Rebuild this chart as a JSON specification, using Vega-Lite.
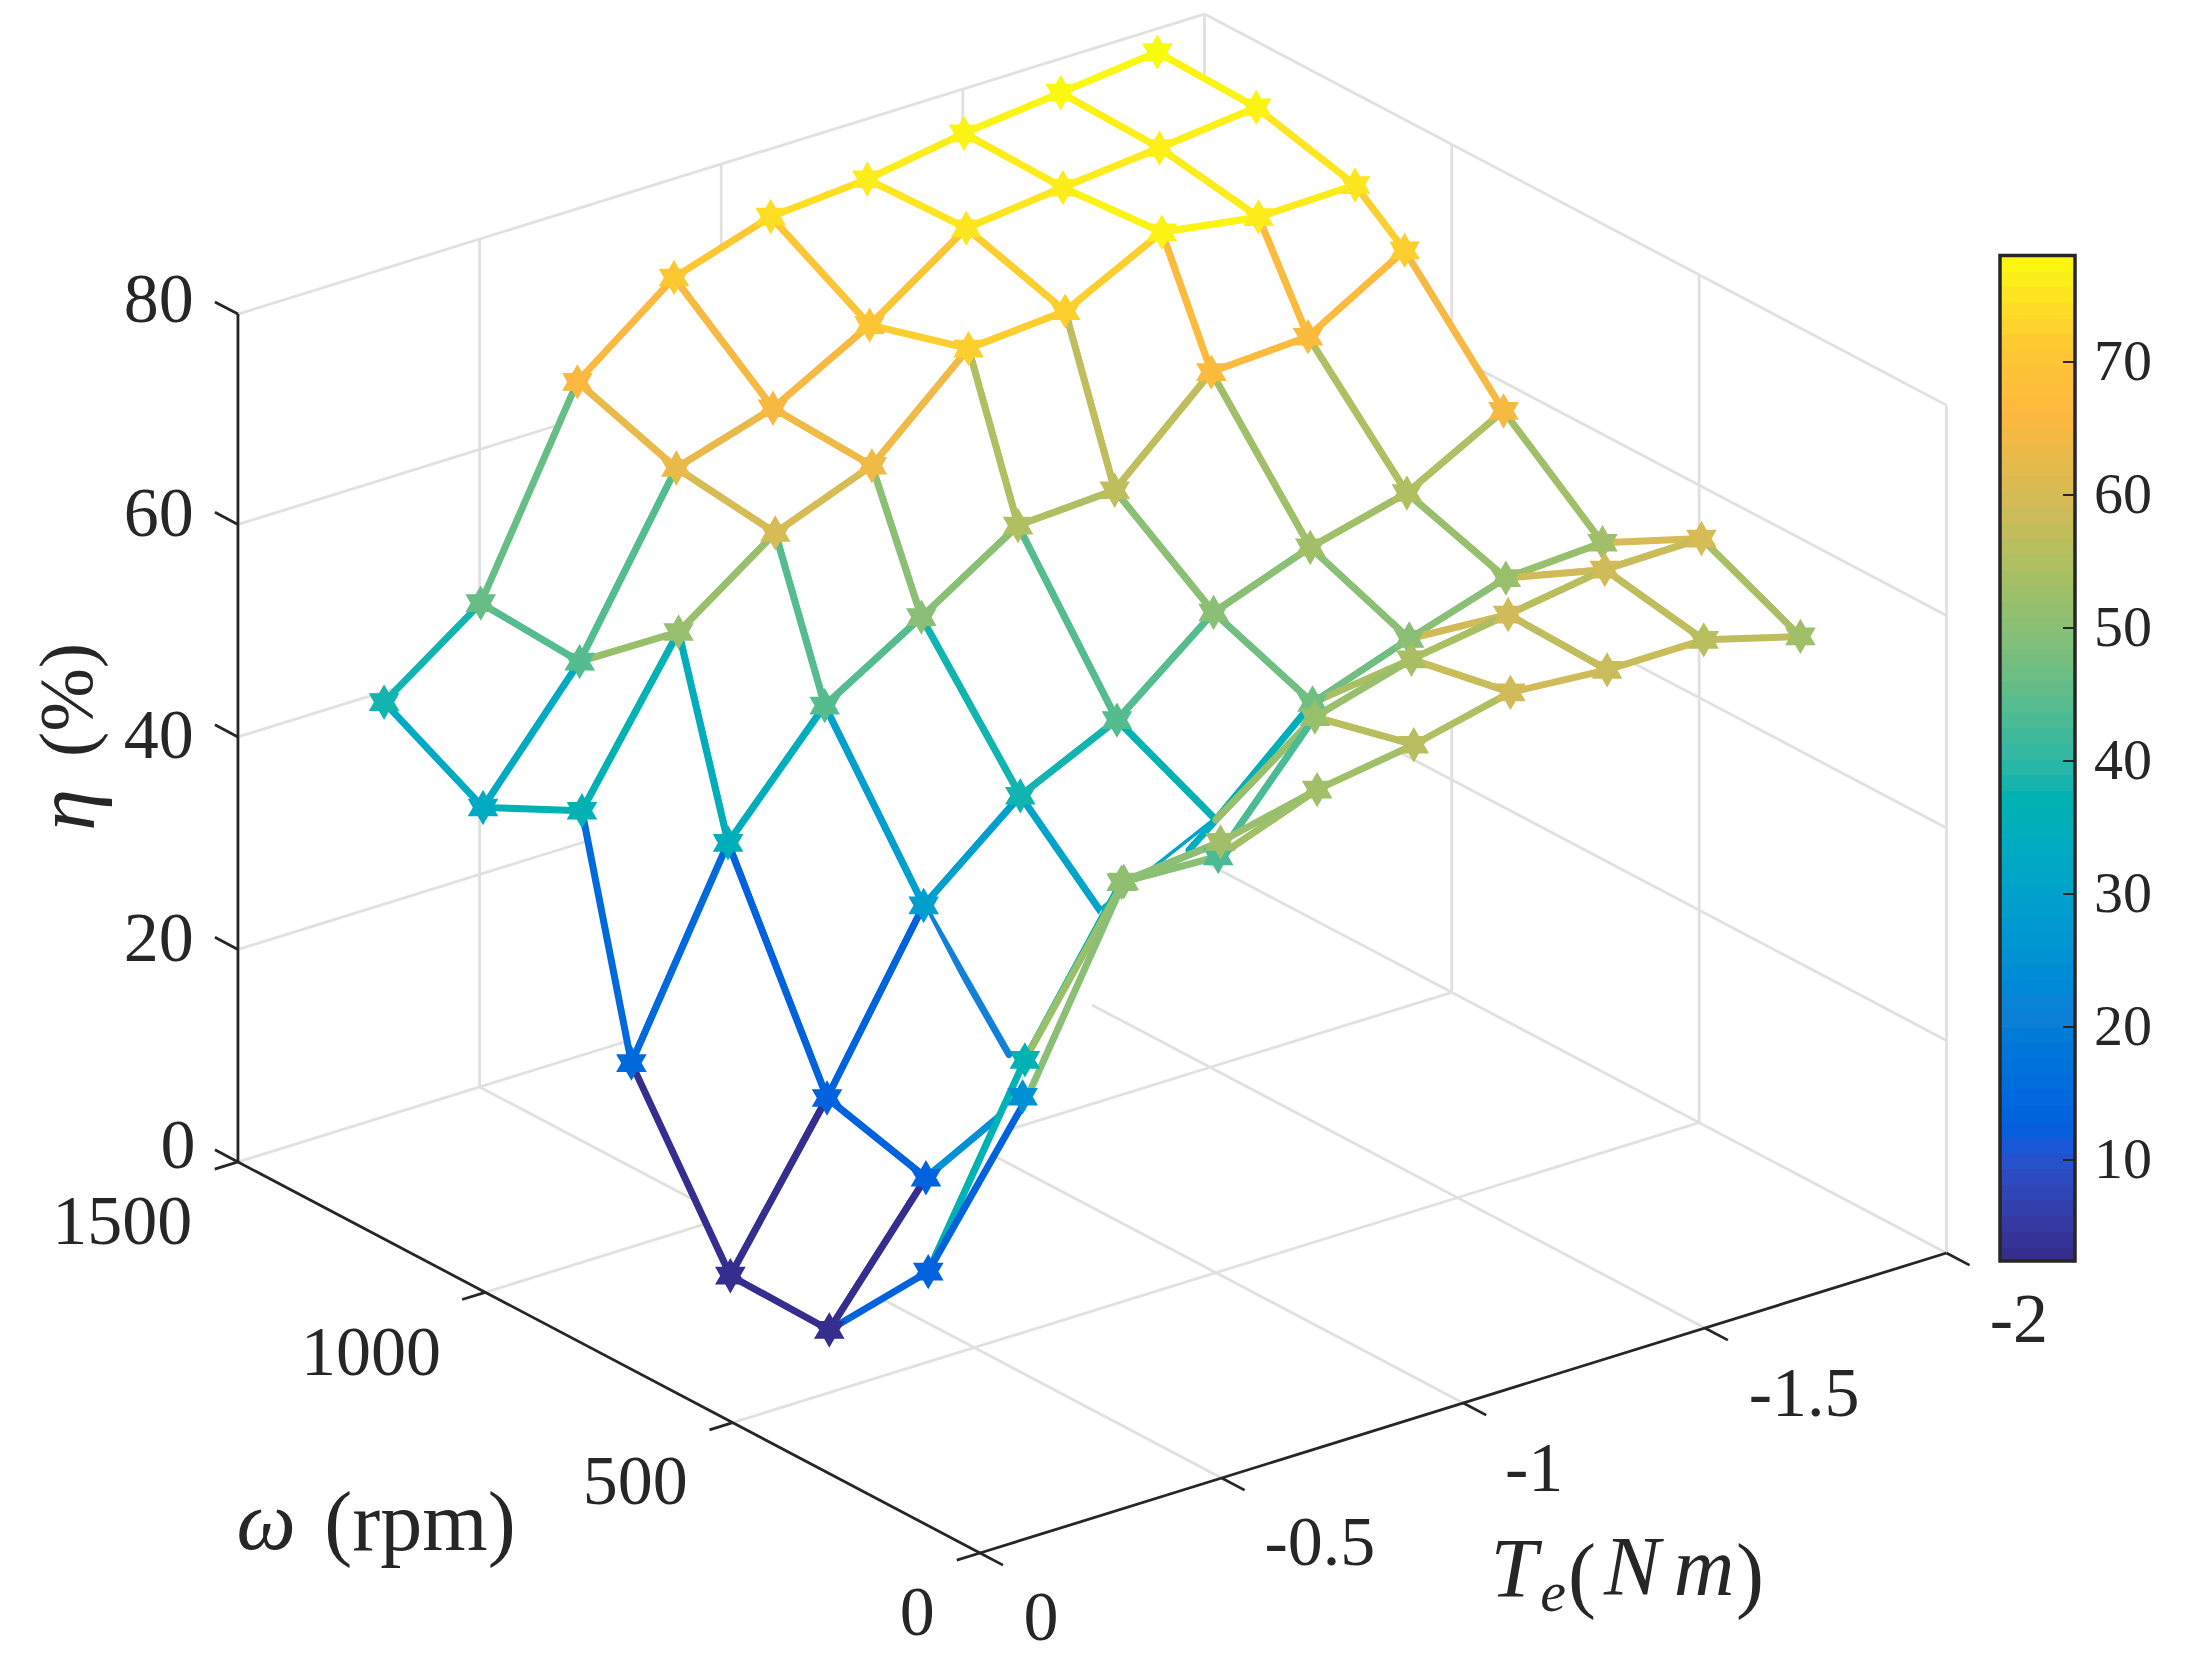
{"$schema":"https://vega.github.io/schema/vega-lite/v6.json","width":2190,"height":1660,"padding":0,"autosize":{"type":"fit","contains":"padding"},"background":"white","view":{"stroke":null},
"datasets":{
"verts":[
{"id":10,"Te":-0.2,"rpm":1400,"eta":42.9,"c":38},{"id":11,"Te":-0.4,"rpm":1400,"eta":49.4,"c":46},{"id":12,"Te":-0.6,"rpm":1400,"eta":67.4,"c":66},{"id":13,"Te":-0.8,"rpm":1400,"eta":74.4,"c":71},{"id":14,"Te":-1.0,"rpm":1400,"eta":77.3,"c":74},{"id":15,"Te":-1.2,"rpm":1400,"eta":78.0,"c":76},{"id":16,"Te":-1.4,"rpm":1400,"eta":79.5,"c":77},{"id":17,"Te":-1.6,"rpm":1400,"eta":80.5,"c":77.5},{"id":18,"Te":-1.8,"rpm":1400,"eta":81.5,"c":78},
{"id":20,"Te":-0.2,"rpm":1200,"eta":37.9,"c":33},{"id":21,"Te":-0.4,"rpm":1200,"eta":48.8,"c":44},{"id":22,"Te":-0.6,"rpm":1200,"eta":64.2,"c":63},{"id":23,"Te":-0.8,"rpm":1200,"eta":67.0,"c":65},{"id":24,"Te":-1.0,"rpm":1200,"eta":72.0,"c":70},{"id":25,"Te":-1.2,"rpm":1200,"eta":78.3,"c":75},{"id":26,"Te":-1.4,"rpm":1200,"eta":79.3,"c":76},{"id":27,"Te":-1.6,"rpm":1200,"eta":80.2,"c":76.5},{"id":28,"Te":-1.8,"rpm":1200,"eta":81.2,"c":77},
{"id":30,"Te":-0.2,"rpm":1000,"eta":42.5,"c":37},{"id":31,"Te":-0.4,"rpm":1000,"eta":56.5,"c":52},{"id":32,"Te":-0.6,"rpm":1000,"eta":63.0,"c":60},{"id":33,"Te":-0.8,"rpm":1000,"eta":66.5,"c":64},{"id":34,"Te":-1.0,"rpm":1000,"eta":74.7,"c":72},{"id":35,"Te":-1.2,"rpm":1000,"eta":75.4,"c":72},{"id":36,"Te":-1.4,"rpm":1000,"eta":80.0,"c":77},{"id":37,"Te":-1.6,"rpm":1000,"eta":78.6,"c":76},{"id":38,"Te":-1.8,"rpm":1000,"eta":78.8,"c":75},
{"id":40,"Te":-0.2,"rpm":900,"eta":21.2,"c":15},{"id":41,"Te":-0.4,"rpm":900,"eta":39.1,"c":35},{"id":42,"Te":-0.6,"rpm":900,"eta":49.2,"c":44},{"id":43,"Te":-0.8,"rpm":900,"eta":54.7,"c":50},{"id":44,"Te":-1.0,"rpm":900,"eta":60.5,"c":55},{"id":45,"Te":-1.2,"rpm":900,"eta":61.0,"c":57},{"id":46,"Te":-1.4,"rpm":900,"eta":69.3,"c":67},{"id":47,"Te":-1.6,"rpm":900,"eta":69.8,"c":67},{"id":48,"Te":-1.8,"rpm":900,"eta":75.1,"c":72},
{"id":50,"Te":-0.2,"rpm":700,"eta":6.1,"c":3},{"id":51,"Te":-0.4,"rpm":700,"eta":20.0,"c":13},{"id":52,"Te":-0.6,"rpm":700,"eta":35.3,"c":29},{"id":53,"Te":-0.8,"rpm":700,"eta":42.8,"c":38},{"id":54,"Te":-1.0,"rpm":700,"eta":47.1,"c":44},{"id":55,"Te":-1.2,"rpm":700,"eta":54.4,"c":50},{"id":56,"Te":-1.4,"rpm":700,"eta":57.7,"c":53},{"id":57,"Te":-1.6,"rpm":700,"eta":60.0,"c":55},{"id":58,"Te":-1.8,"rpm":700,"eta":64.9,"c":65},
{"id":60,"Te":-0.2,"rpm":500,"eta":5.9,"c":3},{"id":61,"Te":-0.4,"rpm":500,"eta":17.4,"c":13,"tc":25},{"id":62,"Te":-0.6,"rpm":500,"eta":22.2,"c":25},{"id":63,"Te":-0.8,"rpm":538,"eta":35.9,"c":31},{"id":64,"Te":-1.0,"rpm":500,"eta":42.6,"c":37,"tc":36},{"id":65,"Te":-1.2,"rpm":500,"eta":50.8,"c":47},{"id":66,"Te":-1.4,"rpm":500,"eta":54.0,"c":50},{"id":67,"Te":-1.6,"rpm":500,"eta":56.9,"c":52},{"id":68,"Te":-1.8,"rpm":500,"eta":57.4,"c":53},
{"id":70,"Te":-0.2,"rpm":300,"eta":16.3,"c":13,"tc":37},{"id":71,"Te":-0.4,"rpm":300,"eta":33.4,"c":37},{"id":72,"Te":-0.6,"rpm":300,"eta":47.3,"c":50},{"id":73,"Te":-0.8,"rpm":300,"eta":46.9,"c":43},{"id":74,"Te":-1.0,"rpm":300,"eta":57.2,"c":52},{"id":75,"Te":-1.2,"rpm":300,"eta":59.8,"c":54},{"id":76,"Te":-1.4,"rpm":300,"eta":61.2,"c":59,"tc":56},{"id":77,"Te":-1.6,"rpm":300,"eta":62.6,"c":59,"tc":58},{"id":78,"Te":-1.8,"rpm":300,"eta":62.7,"c":60},
{"id":80,"Te":-0.2,"rpm":100,"eta":37.6,"c":13,"tc":50},{"id":81,"Te":-0.4,"rpm":100,"eta":55.1,"c":51,"tc":50,"wc":52},{"id":82,"Te":-0.6,"rpm":100,"eta":56.0,"c":53,"tc":52,"wc":52},{"id":83,"Te":-0.8,"rpm":100,"eta":58.1,"c":53},{"id":84,"Te":-1.0,"rpm":100,"eta":59.5,"c":56,"tc":55},{"id":85,"Te":-1.2,"rpm":100,"eta":61.6,"c":59,"wc":58},{"id":86,"Te":-1.4,"rpm":100,"eta":60.9,"c":58,"wc":57},{"id":87,"Te":-1.6,"rpm":100,"eta":60.9,"c":56,"tc":57,"wc":57},{"id":88,"Te":-1.8,"rpm":100,"eta":58.4,"c":53,"wc":54},
{"id":91,"Te":-0.6,"rpm":527.6,"eta":25.5,"c":21},{"id":92,"Te":-0.8,"rpm":359,"eta":46.06,"c":34}
],
"cells":[
{"r":1,"k":7},{"r":1,"k":6},{"r":1,"k":5},{"r":1,"k":4},{"r":1,"k":3},{"r":1,"k":2},{"r":1,"k":1},{"r":1,"k":0},
{"r":2,"k":7},{"r":2,"k":6},{"r":2,"k":5},{"r":2,"k":4},{"r":2,"k":3},{"r":2,"k":2},{"r":2,"k":1},{"r":2,"k":0},
{"r":3,"k":7},{"r":3,"k":6},{"r":3,"k":5},{"r":3,"k":4},{"r":3,"k":3},{"r":3,"k":2},{"r":3,"k":1},{"r":3,"k":0},
{"r":4,"k":7},{"r":4,"k":6},{"r":4,"k":5},{"r":4,"k":4},{"r":4,"k":3},{"r":4,"k":2},{"r":4,"k":1},{"r":4,"k":0},
{"r":5,"k":7},{"r":5,"k":6},{"r":5,"k":5},{"r":5,"k":4},{"r":5,"k":3},{"r":5,"k":2},{"r":5,"k":1},{"r":5,"k":0},
{"r":6,"k":7},{"r":6,"k":6},{"r":6,"k":5},{"r":6,"k":4},{"r":6,"k":3},{"r":6,"k":2},{"r":6,"k":0},{"r":6,"k":1},
{"r":7,"k":7},{"r":7,"k":6},{"r":7,"k":5},{"r":7,"k":4},{"r":7,"k":3},{"r":7,"k":2},{"r":7,"k":1},{"r":7,"k":0}
],
"grid":[
{"seg":"v1","Te":-0.5,"rpm":1500,"eta":0},{"seg":"v1","Te":-0.5,"rpm":1500,"eta":79.8},
{"seg":"v2","Te":-1,"rpm":1500,"eta":0},{"seg":"v2","Te":-1,"rpm":1500,"eta":79.8},
{"seg":"v3","Te":-1.5,"rpm":1500,"eta":0},{"seg":"v3","Te":-1.5,"rpm":1500,"eta":79.8},
{"seg":"v4","Te":-2,"rpm":1500,"eta":0},{"seg":"v4","Te":-2,"rpm":1500,"eta":79.8},
{"seg":"v5","Te":-2,"rpm":1000,"eta":0},{"seg":"v5","Te":-2,"rpm":1000,"eta":79.8},
{"seg":"v6","Te":-2,"rpm":500,"eta":0},{"seg":"v6","Te":-2,"rpm":500,"eta":79.8},
{"seg":"v7","Te":-2,"rpm":0,"eta":0},{"seg":"v7","Te":-2,"rpm":0,"eta":79.8},
{"seg":"a0","Te":0,"rpm":1500,"eta":0},{"seg":"a0","Te":-2,"rpm":1500,"eta":0},
{"seg":"a1","Te":0,"rpm":1500,"eta":20},{"seg":"a1","Te":-2,"rpm":1500,"eta":20},
{"seg":"a2","Te":0,"rpm":1500,"eta":40},{"seg":"a2","Te":-2,"rpm":1500,"eta":40},
{"seg":"a3","Te":0,"rpm":1500,"eta":60},{"seg":"a3","Te":-2,"rpm":1500,"eta":60},
{"seg":"a4","Te":0,"rpm":1500,"eta":79.8},{"seg":"a4","Te":-2,"rpm":1500,"eta":79.8},
{"seg":"b0","Te":-2,"rpm":1500,"eta":0},{"seg":"b0","Te":-2,"rpm":0,"eta":0},
{"seg":"b1","Te":-2,"rpm":1500,"eta":20},{"seg":"b1","Te":-2,"rpm":0,"eta":20},
{"seg":"b2","Te":-2,"rpm":1500,"eta":40},{"seg":"b2","Te":-2,"rpm":0,"eta":40},
{"seg":"b3","Te":-2,"rpm":1500,"eta":60},{"seg":"b3","Te":-2,"rpm":0,"eta":60},
{"seg":"b4","Te":-2,"rpm":1500,"eta":79.8},{"seg":"b4","Te":-2,"rpm":0,"eta":79.8},
{"seg":"f1","Te":-0.5,"rpm":1500,"eta":0},{"seg":"f1","Te":-0.5,"rpm":0,"eta":0},
{"seg":"f2","Te":-1,"rpm":1500,"eta":0},{"seg":"f2","Te":-1,"rpm":0,"eta":0},
{"seg":"f3","Te":-1.5,"rpm":1239,"eta":0},{"seg":"f3","Te":-1.5,"rpm":0,"eta":0},
{"seg":"f4","Te":0,"rpm":1000,"eta":0},{"seg":"f4","Te":-2,"rpm":1000,"eta":0},
{"seg":"f5","Te":0,"rpm":500,"eta":0},{"seg":"f5","Te":-2,"rpm":500,"eta":0}
],
"axes":[
{"seg":"z","Te":0,"rpm":1500,"eta":0},{"seg":"z","Te":0,"rpm":1500,"eta":79.8},
{"seg":"w","Te":0,"rpm":1500,"eta":0},{"seg":"w","Te":0,"rpm":0,"eta":0},
{"seg":"t","Te":0,"rpm":0,"eta":0},{"seg":"t","Te":-2,"rpm":0,"eta":0},
{"seg":"z0","Te":0,"rpm":1500,"eta":0},{"seg":"z0","Te":0,"rpm":1546.5,"eta":0},
{"seg":"z1","Te":0,"rpm":1500,"eta":20},{"seg":"z1","Te":0,"rpm":1546.5,"eta":20},
{"seg":"z2","Te":0,"rpm":1500,"eta":40},{"seg":"z2","Te":0,"rpm":1546.5,"eta":40},
{"seg":"z3","Te":0,"rpm":1500,"eta":60},{"seg":"z3","Te":0,"rpm":1546.5,"eta":60},
{"seg":"z4","Te":0,"rpm":1500,"eta":79.8},{"seg":"z4","Te":0,"rpm":1546.5,"eta":79.8},
{"seg":"w0","Te":0,"rpm":0,"eta":0},{"seg":"w0","Te":0.048,"rpm":0,"eta":0},
{"seg":"w1","Te":0,"rpm":500,"eta":0},{"seg":"w1","Te":0.048,"rpm":500,"eta":0},
{"seg":"w2","Te":0,"rpm":1000,"eta":0},{"seg":"w2","Te":0.048,"rpm":1000,"eta":0},
{"seg":"w3","Te":0,"rpm":1500,"eta":0},{"seg":"w3","Te":0.048,"rpm":1500,"eta":0},
{"seg":"t0","Te":0,"rpm":0,"eta":0},{"seg":"t0","Te":0,"rpm":-46.5,"eta":0},
{"seg":"t1","Te":-0.5,"rpm":0,"eta":0},{"seg":"t1","Te":-0.5,"rpm":-46.5,"eta":0},
{"seg":"t2","Te":-1,"rpm":0,"eta":0},{"seg":"t2","Te":-1,"rpm":-46.5,"eta":0},
{"seg":"t3","Te":-1.5,"rpm":0,"eta":0},{"seg":"t3","Te":-1.5,"rpm":-46.5,"eta":0},
{"seg":"t4","Te":-2,"rpm":0,"eta":0},{"seg":"t4","Te":-2,"rpm":-46.5,"eta":0}
],
"labels":[
{"g":"tick","text":"80","Te":0,"rpm":1660,"eta":77.1},{"g":"tick","text":"60","Te":0,"rpm":1660,"eta":57.0},{"g":"tick","text":"40","Te":0,"rpm":1660,"eta":36.1},{"g":"tick","text":"20","Te":0,"rpm":1660,"eta":17.0},{"g":"tick","text":"0","Te":0,"rpm":1621,"eta":-1.6},
{"g":"tick","text":"1500","Te":0,"rpm":1734,"eta":-11.5},{"g":"tick","text":"1000","Te":0,"rpm":1231,"eta":-11.48},{"g":"tick","text":"500","Te":0,"rpm":697,"eta":-10.52},{"g":"tick","text":"0","Te":0,"rpm":127,"eta":-8.87},
{"g":"tick","text":"0","Te":0,"rpm":-123.3,"eta":-3.19},{"g":"tick","text":"-0.5","Te":0,"rpm":-687,"eta":17.71},{"g":"tick","text":"-1","Te":0,"rpm":-1120,"eta":35.3},{"g":"tick","text":"-1.5","Te":0,"rpm":-1666,"eta":55.74},{"g":"tick","text":"-2","Te":0,"rpm":-2100,"eta":73.37},
{"g":"big","text":"(rpm)","Te":0,"rpm":1132,"eta":-25.1},{"g":"big","text":"(","Te":0,"rpm":-1216.9,"eta":27.6},{"g":"big","text":")","Te":0,"rpm":-1556.5,"eta":35.93},
{"g":"ital","text":"ω","Te":0,"rpm":1443,"eta":-32.7},{"g":"ital","text":"T","Te":0,"rpm":-1079.4,"eta":24.7},{"g":"ital","text":"N","Te":0,"rpm":-1318,"eta":30.74},{"g":"ital","text":"m","Te":0,"rpm":-1463.5,"eta":34.31},
{"g":"sub","text":"e","Te":0,"rpm":-1158.3,"eta":24.6},
{"g":"yl","text":"(%)","Te":0,"rpm":1841.6,"eta":35.1},{"g":"yli","text":"η","Te":0,"rpm":1841.6,"eta":24.75}
],
"levels":[{"lo":2.4},{"lo":3.38},{"lo":4.57},{"lo":5.75},{"lo":6.94},{"lo":8.12},{"lo":9.31},{"lo":10.49},{"lo":11.68},{"lo":12.86},{"lo":14.04},{"lo":15.23},{"lo":16.41},{"lo":17.6},{"lo":18.78},{"lo":19.97},{"lo":21.15},{"lo":22.33},{"lo":23.52},{"lo":24.7},{"lo":25.89},{"lo":27.07},{"lo":28.26},{"lo":29.44},{"lo":30.63},{"lo":31.81},{"lo":32.99},{"lo":34.18},{"lo":35.36},{"lo":36.55},{"lo":37.73},{"lo":38.92},{"lo":40.1},{"lo":41.28},{"lo":42.47},{"lo":43.65},{"lo":44.84},{"lo":46.02},{"lo":47.21},{"lo":48.39},{"lo":49.58},{"lo":50.76},{"lo":51.94},{"lo":53.13},{"lo":54.31},{"lo":55.5},{"lo":56.68},{"lo":57.87},{"lo":59.05},{"lo":60.23},{"lo":61.42},{"lo":62.6},{"lo":63.79},{"lo":64.97},{"lo":66.16},{"lo":67.34},{"lo":68.53},{"lo":69.71},{"lo":70.89},{"lo":72.08},{"lo":73.26},{"lo":74.45},{"lo":75.63},{"lo":76.75}],
"cbticks":[{"v":10},{"v":20},{"v":30},{"v":40},{"v":50},{"v":60},{"v":70}]
},
"layer":[
{"data":{"name":"grid"},"transform":[{"calculate":"980-483.25*datum.Te-0.4947*datum.rpm","as":"px"},{"calculate":"1553+150*datum.Te-0.2607*datum.rpm-10.625*datum.eta","as":"py"}],
"mark":{"type":"line","stroke":"#e0e0e0","strokeWidth":2.8},
"encoding":{"x":{"field":"px","type":"quantitative","scale":{"domain":[0,2190],"range":[0,2190],"nice":false,"zero":false},"axis":null},"y":{"field":"py","type":"quantitative","scale":{"domain":[0,1660],"range":[0,1660],"nice":false,"zero":false},"axis":null},"detail":{"field":"seg"}}},
{"data":{"name":"axes"},"transform":[{"calculate":"980-483.25*datum.Te-0.4947*datum.rpm","as":"px"},{"calculate":"1553+150*datum.Te-0.2607*datum.rpm-10.625*datum.eta","as":"py"}],
"mark":{"type":"line","stroke":"#262626","strokeWidth":2.8},
"encoding":{"x":{"field":"px","type":"quantitative","axis":null},"y":{"field":"py","type":"quantitative","axis":null},"detail":{"field":"seg"}}},
{"data":{"name":"cells"},"transform":[
{"calculate":"datum.r*10+datum.k","as":"a"},
{"calculate":"datum.a+1","as":"b"},{"calculate":"datum.a+10","as":"d"},{"calculate":"datum.a+11","as":"f"},
{"calculate":"[0,1,2,3,4]","as":"part"},{"flatten":["part"]},
{"calculate":"datum.part===0?[datum.a,datum.b,datum.f,datum.d]:datum.part===1?[datum.a===63?92:datum.a,datum.b]:datum.part===2?[datum.a,datum.a===52?91:datum.d]:datum.part===3?[datum.b,datum.f]:[datum.d,datum.f]","as":"vs"},
{"calculate":"datum.part===0?[0,1,2,3]:[0,1]","as":"ord"},
{"calculate":"datum.vs[0]+'-'+datum.vs[1]","as":"ekey"},
{"filter":"datum.part===0||indexof(['62-63','61-71','63-73','52-62'],datum.ekey)<0"},
{"calculate":"datum.a*10+datum.part","as":"sid"},
{"calculate":"datum.part===1||datum.part===4?datum.vs[0]:datum.vs[1]","as":"colorId"},
{"flatten":["vs","ord"]},
{"lookup":"vs","from":{"data":{"name":"verts"},"key":"id","fields":["Te","rpm","eta"]}},
{"lookup":"colorId","from":{"data":{"name":"verts"},"key":"id","fields":["c","tc","wc"]}},
{"calculate":"datum.part===0?40:(datum.part===1||datum.part===4)?(isValid(datum.tc)?datum.tc:datum.c):(isValid(datum.wc)?datum.wc:datum.c)","as":"ec"},
{"calculate":"980-483.25*datum.Te-0.4947*datum.rpm","as":"px"},{"calculate":"1553+150*datum.Te-0.2607*datum.rpm-10.625*datum.eta","as":"py"}],
"mark":{"type":"line","strokeWidth":7,"strokeCap":"round","strokeJoin":"round"},
"encoding":{"x":{"field":"px","type":"quantitative","axis":null},"y":{"field":"py","type":"quantitative","axis":null},"detail":{"field":"sid"},"order":{"field":"ord"},
"fill":{"condition":{"test":"datum.part===0","value":"white"},"value":"transparent"},
"stroke":{"condition":{"test":"datum.part===0","value":"transparent"},"field":"ec","type":"quantitative","legend":null,"scale":{"domain":[2.2,11.7,21.2,30.6,40.1,49.6,59,66,71,78],"range":["#352a87","#0f5cdd","#1481d6","#06a4ca","#2eb7a4","#87bf77","#d1bb59","#fdb83f","#fcc832","#f9fb0e"],"zero":false,"nice":false,"clamp":true}}}},
{"data":{"name":"verts"},"transform":[{"filter":"indexof([63,64,80,91,92],datum.id)<0"},{"calculate":"980-483.25*datum.Te-0.4947*datum.rpm","as":"px"},{"calculate":"1553+150*datum.Te-0.2607*datum.rpm-10.625*datum.eta","as":"py"}],
"mark":{"type":"point","filled":true,"opacity":1,"size":1250,"shape":"M0,-1L.2887,-.5L.866,-.5L.577,0L.866,.5L.2887,.5L0,1L-.2887,.5L-.866,.5L-.577,0L-.866,-.5L-.2887,-.5Z"},
"encoding":{"x":{"field":"px","type":"quantitative","axis":null},"y":{"field":"py","type":"quantitative","axis":null},
"fill":{"field":"c","type":"quantitative","legend":null,"scale":{"domain":[2.2,11.7,21.2,30.6,40.1,49.6,59,66,71,78],"range":["#352a87","#0f5cdd","#1481d6","#06a4ca","#2eb7a4","#87bf77","#d1bb59","#fdb83f","#fcc832","#f9fb0e"],"zero":false,"nice":false,"clamp":true}}}},
{"data":{"name":"labels"},"transform":[{"filter":"datum.g==='tick'"},{"calculate":"980-483.25*datum.Te-0.4947*datum.rpm","as":"px"},{"calculate":"1553+150*datum.Te-0.2607*datum.rpm-10.625*datum.eta","as":"py"}],
"mark":{"type":"text","font":"Liberation Serif","fontSize":70,"color":"#262626","align":"center","baseline":"middle"},
"encoding":{"x":{"field":"px","type":"quantitative","axis":null},"y":{"field":"py","type":"quantitative","axis":null},"text":{"field":"text"}}},
{"data":{"name":"labels"},"transform":[{"filter":"datum.g==='big'"},{"calculate":"980-483.25*datum.Te-0.4947*datum.rpm","as":"px"},{"calculate":"1553+150*datum.Te-0.2607*datum.rpm-10.625*datum.eta","as":"py"}],
"mark":{"type":"text","font":"Liberation Serif","fontSize":84,"color":"#262626","align":"center","baseline":"middle"},
"encoding":{"x":{"field":"px","type":"quantitative","axis":null},"y":{"field":"py","type":"quantitative","axis":null},"text":{"field":"text"}}},
{"data":{"name":"labels"},"transform":[{"filter":"datum.g==='ital'"},{"calculate":"980-483.25*datum.Te-0.4947*datum.rpm","as":"px"},{"calculate":"1553+150*datum.Te-0.2607*datum.rpm-10.625*datum.eta","as":"py"}],
"mark":{"type":"text","font":"Liberation Serif","fontStyle":"italic","fontSize":84,"color":"#262626","align":"center","baseline":"middle"},
"encoding":{"x":{"field":"px","type":"quantitative","axis":null},"y":{"field":"py","type":"quantitative","axis":null},"text":{"field":"text"}}},
{"data":{"name":"labels"},"transform":[{"filter":"datum.g==='sub'"},{"calculate":"980-483.25*datum.Te-0.4947*datum.rpm","as":"px"},{"calculate":"1553+150*datum.Te-0.2607*datum.rpm-10.625*datum.eta","as":"py"}],
"mark":{"type":"text","font":"Liberation Serif","fontStyle":"italic","fontSize":58,"color":"#262626","align":"center","baseline":"middle"},
"encoding":{"x":{"field":"px","type":"quantitative","axis":null},"y":{"field":"py","type":"quantitative","axis":null},"text":{"field":"text"}}},
{"data":{"name":"labels"},"transform":[{"filter":"datum.g==='yl'"},{"calculate":"980-483.25*datum.Te-0.4947*datum.rpm","as":"px"},{"calculate":"1553+150*datum.Te-0.2607*datum.rpm-10.625*datum.eta","as":"py"}],
"mark":{"type":"text","font":"Liberation Serif","fontSize":76,"angle":270,"color":"#262626","align":"center","baseline":"middle"},
"encoding":{"x":{"field":"px","type":"quantitative","axis":null},"y":{"field":"py","type":"quantitative","axis":null},"text":{"field":"text"}}},
{"data":{"name":"labels"},"transform":[{"filter":"datum.g==='yli'"},{"calculate":"980-483.25*datum.Te-0.4947*datum.rpm","as":"px"},{"calculate":"1553+150*datum.Te-0.2607*datum.rpm-10.625*datum.eta","as":"py"}],
"mark":{"type":"text","font":"Liberation Serif","fontStyle":"italic","fontSize":84,"angle":270,"color":"#262626","align":"center","baseline":"middle"},
"encoding":{"x":{"field":"px","type":"quantitative","axis":null},"y":{"field":"py","type":"quantitative","axis":null},"text":{"field":"text"}}},
{"data":{"name":"levels"},"transform":[{"calculate":"1160-(datum.lo-10)*13.3","as":"y0"},{"calculate":"1160-(datum.lo+1.25-10)*13.3","as":"y1"},{"calculate":"datum.lo+0.59","as":"mid"}],
"mark":{"type":"rect"},
"encoding":{"x":{"value":2000},"x2":{"value":2075},"y":{"field":"y0","type":"quantitative","axis":null},"y2":{"field":"y1"},
"fill":{"field":"mid","type":"quantitative","legend":null,"scale":{"domain":[2.2,11.7,21.2,30.6,40.1,49.6,59,66,71,78],"range":["#352a87","#0f5cdd","#1481d6","#06a4ca","#2eb7a4","#87bf77","#d1bb59","#fdb83f","#fcc832","#f9fb0e"],"zero":false,"nice":false,"clamp":true}}}},
{"data":{"values":[{"lo":2.4,"hi":78}]},"transform":[{"calculate":"1160-(datum.lo-10)*13.3","as":"y0"},{"calculate":"1160-(datum.hi-10)*13.3","as":"y1"}],
"mark":{"type":"rect","fill":null,"fillOpacity":0,"stroke":"#262626","strokeWidth":3.5},
"encoding":{"x":{"value":2000},"x2":{"value":2075},"y":{"field":"y0","type":"quantitative","axis":null},"y2":{"field":"y1"}}},
{"data":{"name":"cbticks"},"transform":[{"calculate":"1160-(datum.v-10)*13.3","as":"yy"}],
"mark":{"type":"rule","stroke":"#262626","strokeWidth":2},
"encoding":{"x":{"value":2063},"x2":{"value":2075},"y":{"field":"yy","type":"quantitative","axis":null}}},
{"data":{"name":"cbticks"},"transform":[{"calculate":"1160-(datum.v-10)*13.3","as":"yy"}],
"mark":{"type":"text","font":"Liberation Serif","fontSize":58,"color":"#262626","align":"left","baseline":"middle","dy":1},
"encoding":{"x":{"value":2094},"y":{"field":"yy","type":"quantitative","axis":null},"text":{"field":"v"}}}
],
"resolve":{"scale":{"fill":"independent","stroke":"independent"}}
}
